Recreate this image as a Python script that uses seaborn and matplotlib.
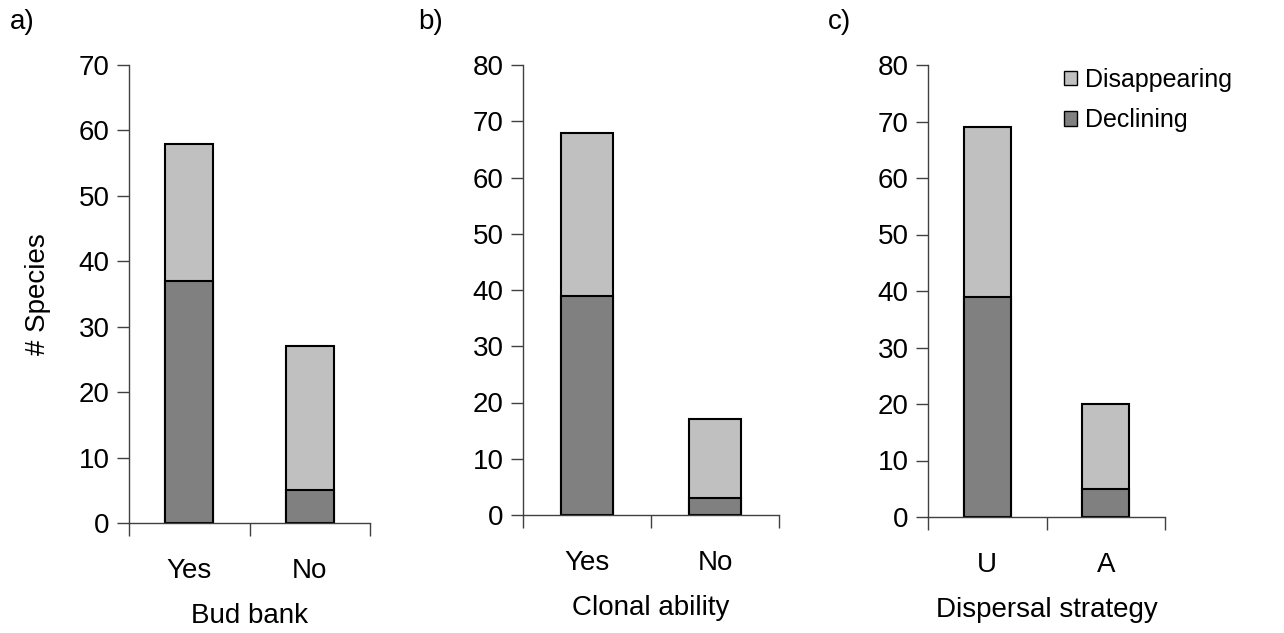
import matplotlib
matplotlib.use("Agg")
import matplotlib.pyplot as plt
import seaborn as sns
import pandas as pd
from matplotlib.patches import Patch
from matplotlib.ticker import FixedLocator

sns.set_style("white")
plt.rcParams['font.family'] = ['Liberation Sans', 'DejaVu Sans']
plt.rcParams['text.color'] = 'black'
plt.rcParams['axes.labelcolor'] = 'black'
plt.rcParams['xtick.color'] = 'black'
plt.rcParams['ytick.color'] = 'black'

# Data
cats_a = ["Yes", "No"]
declining_a = [37, 5]
disappearing_a = [21, 22]

cats_b = ["Yes", "No"]
declining_b = [39, 3]
disappearing_b = [29, 14]

cats_c = ["U", "A"]
declining_c = [39, 5]
disappearing_c = [30, 15]

xlabels = ["Bud bank", "Clonal ability", "Dispersal strategy"]
panel_labels = ["a)", "b)", "c)"]
ymaxes = [70, 80, 80]

DARK = "#808080"
LIGHT = "#C0C0C0"
AXC = "#404040"

fig = plt.figure(figsize=(12.84, 6.33), dpi=100)
rects = [
    [129/1284, 1-523/633, (370-129)/1284, (523-65)/633],
    [523/1284, 1-515/633, (779-523)/1284, (515-65)/633],
    [928/1284, 1-517/633, (1165-928)/1284, (517-65)/633],
]
panels = [
    (cats_a, declining_a, disappearing_a),
    (cats_b, declining_b, disappearing_b),
    (cats_c, declining_c, disappearing_c),
]
label_x = [10, 418, 828]

for i, (cats, dec, dis) in enumerate(panels):
    ax = fig.add_axes(rects[i])
    total = [d + s for d, s in zip(dec, dis)]
    df = pd.DataFrame({"cat": cats, "total": total, "dec": dec})
    sns.barplot(data=df, x="cat", y="total", order=cats, color=LIGHT,
                saturation=1, width=0.4, edgecolor="black", linewidth=1.5, ax=ax)
    sns.barplot(data=df, x="cat", y="dec", order=cats, color=DARK,
                saturation=1, width=0.4, edgecolor="black", linewidth=1.5, ax=ax)
    ax.set_xlim(-0.5, 1.5)
    ax.set_ylim(0, ymaxes[i])
    ax.set_yticks(range(0, ymaxes[i] + 1, 10))
    ax.tick_params(axis='y', labelsize=20, length=9, width=1, color=AXC,
                   direction='out', left=True, pad=5, labelcolor='black')
    ax.tick_params(axis='x', which='major', length=0, labelsize=20, pad=25,
                   labelcolor='black')
    ax.xaxis.set_minor_locator(FixedLocator([-0.5, 0.5, 1.5]))
    ax.tick_params(axis='x', which='minor', length=9, width=1, color=AXC,
                   direction='out', bottom=True)
    for side in ["top", "right"]:
        ax.spines[side].set_visible(False)
    for side in ["left", "bottom"]:
        ax.spines[side].set_color(AXC)
        ax.spines[side].set_linewidth(1)
    ax.set_xlabel(xlabels[i], fontsize=20, labelpad=14)
    if i == 0:
        ax.set_ylabel("# Species", fontsize=20, labelpad=20)
    else:
        ax.set_ylabel("")
    fig.text(label_x[i] / 1284, 1 - 22 / 633, panel_labels[i], fontsize=20,
             va="center", ha="left")
    if i == 2:
        handles = [Patch(facecolor=LIGHT, edgecolor="black", linewidth=1, label="Disappearing"),
                   Patch(facecolor=DARK, edgecolor="black", linewidth=1, label="Declining")]
        fig.legend(handles=handles, loc="upper left",
                   bbox_to_anchor=(1064 / 1284, 1 - 68 / 633),
                   frameon=False, fontsize=18, handlelength=0.5, handleheight=0.5,
                   handletextpad=0.35, labelspacing=0.65, borderpad=0, borderaxespad=0)

fig.savefig("out.png", dpi=100)
